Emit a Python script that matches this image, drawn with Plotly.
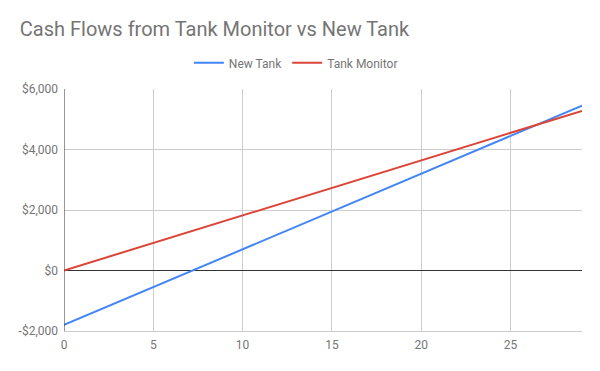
import plotly.graph_objects as go

years = list(range(0, 30))
new_tank = [-1800, -1550, -1300, -1050, -800, -550, -300, -50, 200, 450,
            700, 950, 1200, 1450, 1700, 1950, 2200, 2450, 2700, 2950,
            3200, 3450, 3700, 3950, 4200, 4450, 4700, 4950, 5200, 5450]
tank_monitor = [0, 182, 364, 546, 728, 910, 1092, 1274, 1456, 1638,
                1820, 2002, 2184, 2366, 2548, 2730, 2912, 3094, 3276, 3458,
                3640, 3822, 4004, 4186, 4368, 4550, 4732, 4914, 5096, 5278]
y_tickvals = [-2000, 0, 2000, 4000, 6000]
y_ticktext = ["-$2,000", "$0", "$2,000", "$4,000", "$6,000"]
x_tickvals = [0, 5, 10, 15, 20, 25]

fig = go.Figure()
fig.add_trace(go.Scatter(x=years, y=new_tank, mode="lines", name="New Tank",
                         line=dict(color="#4285F4", width=2)))
fig.add_trace(go.Scatter(x=years, y=tank_monitor, mode="lines", name="Tank Monitor",
                         line=dict(color="#DB4437", width=2)))

fig.update_layout(
    width=600, height=371,
    paper_bgcolor="white", plot_bgcolor="white",
    font=dict(family="Roboto", color="#757575", size=12),
    margin=dict(l=64, r=18, t=89, b=40),
    title=dict(text="Cash Flows from Tank Monitor vs New Tank", x=0.033, xanchor="left",
               y=0.921, yanchor="middle", font=dict(size=20, color="#757575", family="Roboto")),
    legend=dict(orientation="h", x=0.241, xanchor="left", y=1.108, yanchor="middle",
                font=dict(size=12, color="#757575"), itemwidth=30, tracegroupgap=0),
    showlegend=True,
)
fig.update_xaxes(range=[0, 29], tickvals=x_tickvals, showgrid=True, gridcolor="#cccccc",
                 gridwidth=1, zeroline=False, showline=True, linecolor="#cccccc", ticks="",
                 ticklabelstandoff=3, tickfont=dict(size=12, color="#757575"))
fig.update_yaxes(range=[-2000, 6000], tickvals=y_tickvals, ticktext=y_ticktext,
                 showgrid=True, gridcolor="#cccccc", gridwidth=1, zeroline=True,
                 zerolinecolor="#333333", zerolinewidth=1, ticks="",
                 ticklabelstandoff=5, tickfont=dict(size=12, color="#757575"))
fig.add_shape(type="line", xref="x", yref="paper", x0=0, x1=0, y0=0, y1=1,
              line=dict(color="#333333", width=1))

fig.write_html("out.html", config={"displayModeBar": False},
               post_script="document.body.style.margin='0';")
